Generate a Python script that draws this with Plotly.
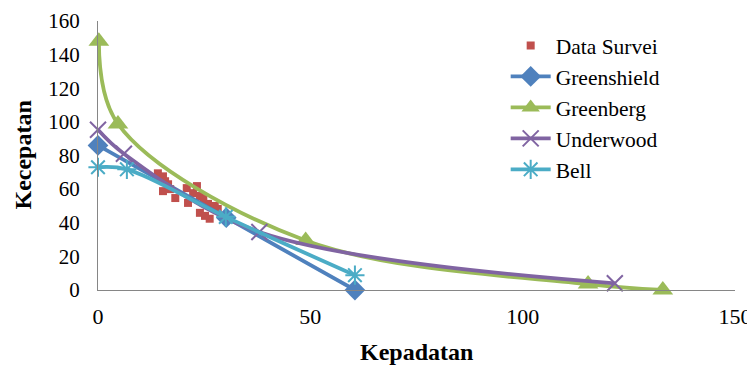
import plotly.graph_objects as go

# Data Survei (observed points)
survei_k = [14.1, 15.3, 15.8, 15.3, 16.5, 17.0, 18.2, 20.9, 23.3, 22.4, 21.2, 24.0, 24.8, 25.9, 27.5, 24.0, 25.2, 26.3, 28.2]
survei_v = [69.4, 67.6, 64.7, 58.8, 62.9, 60.0, 54.7, 60.6, 61.8, 57.6, 51.8, 55.9, 54.1, 51.2, 50.0, 45.9, 44.1, 42.4, 48.2]

# Model curves
greenshield_k = [0, 30.2, 60.5]
greenshield_v = [86, 43, 0]

greenberg_k = [0.2, 4.7, 48.9, 115.4, 133]
greenberg_v = [148, 98.8, 29.4, 3.5, 0]

underwood_k = [0, 6.1, 38.0, 121.7]
underwood_v = [95.3, 81, 34.5, 4]

bell_k = [0, 6.8, 30.1, 60.5]
bell_v = [73, 71.8, 43.5, 8.8]

x_ticks = [0, 50, 100, 150]
y_ticks = [0, 20, 40, 60, 80, 100, 120, 140, 160]

SERIF = "Liberation Serif"

fig = go.Figure()
fig.add_trace(go.Scatter(
    x=survei_k, y=survei_v, mode="markers", name="Data Survei",
    marker=dict(symbol="square", size=8, color="#C0504D"), cliponaxis=False))
fig.add_trace(go.Scatter(
    x=greenshield_k, y=greenshield_v, mode="lines+markers", name="Greenshield",
    line=dict(color="#4F81BD", width=3.8, shape="spline"),
    marker=dict(symbol="diamond", size=16, color="#4F81BD"), cliponaxis=False))
fig.add_trace(go.Scatter(
    x=greenberg_k, y=greenberg_v, mode="lines+markers", name="Greenberg",
    line=dict(color="#9BBB59", width=3.8, shape="spline"),
    marker=dict(symbol="triangle-up", size=18, color="#9BBB59"), cliponaxis=False))
fig.add_trace(go.Scatter(
    x=underwood_k, y=underwood_v, mode="lines+markers", name="Underwood",
    line=dict(color="#8064A2", width=3.8, shape="spline"),
    marker=dict(symbol="x-thin-open", size=16, color="#8064A2", line=dict(width=2, color="#8064A2")),
    cliponaxis=False))
fig.add_trace(go.Scatter(
    x=bell_k, y=bell_v, mode="lines+markers", name="Bell",
    line=dict(color="#4BACC6", width=3.8, shape="spline"),
    marker=dict(symbol="asterisk-open", size=16, color="#4BACC6", line=dict(width=2, color="#4BACC6")),
    cliponaxis=False))

# The page body adds an 8px offset; the figure is sized to fill the 755x371 window.
fig.update_layout(
    width=747, height=363,
    margin=dict(l=90, r=20, t=13, b=81),
    paper_bgcolor="white", plot_bgcolor="white",
    font=dict(family=SERIF, size=21, color="black"),
    showlegend=True,
    legend=dict(x=0.64, y=0.985, xanchor="left", yanchor="top",
                font=dict(family=SERIF, size=21.5, color="black"),
                bgcolor="rgba(0,0,0,0)", tracegroupgap=0, itemwidth=40),
    xaxis=dict(range=[0, 150], tickvals=x_ticks, showgrid=False, zeroline=False,
               showline=True, linecolor="#868686", linewidth=1, ticks="",
               automargin=False, ticklabeloverflow="allow", ticklabelstandoff=7,
               tickfont=dict(family=SERIF, size=22)),
    yaxis=dict(range=[0, 160], tickvals=y_ticks, showgrid=False, zeroline=False,
               showline=True, linecolor="#868686", linewidth=1, ticks="",
               automargin=False, ticklabeloverflow="allow", ticklabelstandoff=13,
               tickfont=dict(family=SERIF, size=21)),
    annotations=[
        dict(text="<b>Kepadatan</b>", xref="paper", yref="paper", x=0.5, y=0,
             yshift=-62, xanchor="center", yanchor="middle", showarrow=False,
             font=dict(family=SERIF, size=24)),
        dict(text="<b>Kecepatan</b>", xref="paper", yref="paper", x=0, y=0.5,
             xshift=-76, xanchor="center", yanchor="middle", showarrow=False,
             textangle=-90, font=dict(family=SERIF, size=24)),
    ],
)

fig.write_html("out.html")
